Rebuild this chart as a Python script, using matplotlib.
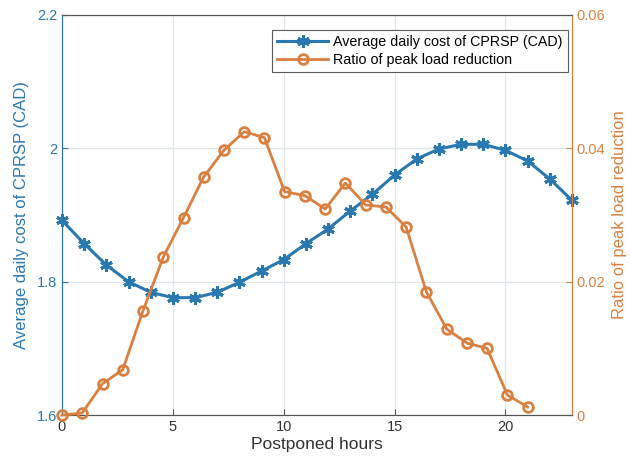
import matplotlib.pyplot as plt

plt.rcParams['font.family'] = ['Liberation Sans', 'DejaVu Sans']

# data
hours = list(range(24))
avg_cost = [1.892, 1.857, 1.825, 1.800, 1.784, 1.776, 1.776, 1.784, 1.799, 1.816,
            1.833, 1.857, 1.879, 1.906, 1.931, 1.960, 1.984, 1.999, 2.006, 2.006,
            1.997, 1.981, 1.954, 1.922]
ratio_x = [0, 0.91, 1.83, 2.74, 3.65, 4.57, 5.48, 6.39, 7.3, 8.22, 9.13, 10.04,
           10.96, 11.87, 12.78, 13.7, 14.61, 15.52, 16.43, 17.35, 18.26, 19.17,
           20.09, 21.0]
peak_ratio = [0.0, 0.0003, 0.0047, 0.0068, 0.0156, 0.0237, 0.0296, 0.0357, 0.0397,
              0.0425, 0.0416, 0.0335, 0.0329, 0.0309, 0.0348, 0.0315, 0.0312, 0.0282,
              0.0185, 0.0129, 0.0108, 0.0100, 0.0030, 0.0012]

blue = '#2a78b0'
orange = '#d98040'
gray = '#555555'

fig = plt.figure(figsize=(6.3, 4.69), dpi=100)
ax = fig.add_axes([0.0984, 0.1151, 0.8095, 0.853])
ax2 = ax.twinx()

l1, = ax.plot(hours, avg_cost, color=blue, lw=2.2, marker=(6, 2, 0), ms=9,
              mew=2.2, label='Average daily cost of CPRSP (CAD)', zorder=3, clip_on=False)
l2, = ax2.plot(ratio_x, peak_ratio, color=orange, lw=2.0, marker='o', ms=7,
               mfc='none', mew=2.0, label='Ratio of peak load reduction', zorder=3,
               clip_on=False)

ax.set_xlim(0, 23)
ax.set_ylim(1.6, 2.2)
ax.set_yticks([1.6, 1.8, 2.0, 2.2])
ax.set_yticklabels(['1.6', '1.8', '2', '2.2'])
ax.set_xticks([0, 5, 10, 15, 20])
ax2.set_ylim(0, 0.06)
ax2.set_yticks([0, 0.02, 0.04, 0.06])
ax2.set_yticklabels(['0', '0.02', '0.04', '0.06'])

ax.grid(True, color='#dfe3ea', lw=0.9)
ax.set_axisbelow(True)

ax.set_xlabel('Postponed hours', fontsize=12.5, color='#333333', labelpad=2)
ax.set_ylabel('Average daily cost of CPRSP (CAD)', fontsize=12, color=blue, labelpad=6)
ax2.set_ylabel('Ratio of peak load reduction', fontsize=12, color=orange, labelpad=5)

ax.tick_params(axis='x', direction='in', colors=gray, labelcolor='#333333', labelsize=10.5, length=4)
ax.tick_params(axis='y', direction='in', colors=blue, labelsize=10.5, length=4)
ax2.tick_params(axis='y', direction='in', colors=orange, labelsize=10.5, length=4)

for a in (ax, ax2):
    a.spines['top'].set_color(gray)
    a.spines['bottom'].set_color(gray)
    a.spines['left'].set_color(blue)
    a.spines['right'].set_color(orange)

leg = ax2.legend(handles=[l1, l2], loc='upper right', bbox_to_anchor=(0.992, 0.9625),
                 borderaxespad=0, fontsize=10.3, frameon=True, fancybox=False,
                 edgecolor='#333333', handlelength=3.6, borderpad=0.35,
                 labelspacing=0.3, handletextpad=0.35)
leg.get_frame().set_linewidth(0.8)

fig.savefig('out.png', dpi=100)
